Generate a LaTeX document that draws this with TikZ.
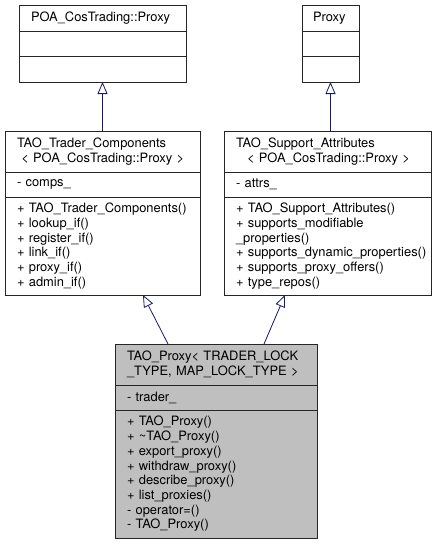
\documentclass[tikz,border=0pt]{standalone}
\usepackage{fontspec}
\setmainfont{TeX Gyre Heros}
\usepackage{tikz}
\usetikzlibrary{arrows.meta, positioning}
\definecolor{edgeblue}{HTML}{191970}
\definecolor{currentgray}{HTML}{BFBFBF}
\newcommand{\umlfont}{\fontsize{12.9}{14.7}\selectfont}
\tikzstyle{classpart} = [
    rectangle,
    draw = black!85,
    line width = 0.8pt,
    fill = white,
    inner xsep = 12pt,
    inner ysep = 0pt,
    outer sep = 0pt,
    align = left,
    font = \umlfont
]
\tikzstyle{currentpart} = [classpart, fill = currentgray]
\tikzstyle{arrow} = [
    draw = edgeblue,
    line width = 0.8pt,
    -{Triangle[open, length = 12pt, width = 10pt]}
]

\begin{document}
\begin{tikzpicture}
    \useasboundingbox (0pt, 0pt) rectangle (441pt, -544pt);

    \node (cos proxy)
        [classpart, text width = 143pt, minimum height = 26pt, anchor = north]
        at (102.5pt, -5pt) {POA\_CosTrading::Proxy};
    \node (cos proxy attrs)
        [classpart, text width = 143pt, minimum height = 25pt, below = 0pt of cos proxy] {};
    \node (cos proxy ops)
        [classpart, text width = 143pt, minimum height = 26pt, below = 0pt of cos proxy attrs] {};

    \node (proxy)
        [classpart, text width = 35pt, inner xsep = 11pt, minimum height = 26pt, anchor = north]
        at (330.5pt, -5pt) {Proxy};
    \node (proxy attrs)
        [classpart, text width = 35pt, inner xsep = 11pt, minimum height = 25pt, below = 0pt of proxy] {};
    \node (proxy ops)
        [classpart, text width = 35pt, inner xsep = 11pt, minimum height = 26pt, below = 0pt of proxy attrs] {};

    \node (trader components)
        [classpart, text width = 171pt, minimum height = 41pt, anchor = north]
        at (102.5pt, -131pt)
        {TAO\_Trader\_Components\\\,\,{<} POA\_CosTrading::Proxy {>}};
    \node (trader components attrs)
        [classpart, text width = 171pt, minimum height = 25pt, below = 0pt of trader components]
        {- comps\_};
    \node (trader components ops)
        [classpart, text width = 171pt, minimum height = 98pt, below = 0pt of trader components attrs]
        {
            + TAO\_Trader\_Components()\\
            + lookup\_if()\\
            + register\_if()\\
            + link\_if()\\
            + proxy\_if()\\
            + admin\_if()
        };

    \node (support attributes)
        [classpart, text width = 183pt, minimum height = 41pt, anchor = north]
        at (327.5pt, -131pt)
        {TAO\_Support\_Attributes\\\hspace*{11pt}{<} POA\_CosTrading::Proxy {>}};
    \node (support attributes attrs)
        [classpart, text width = 183pt, minimum height = 25pt, below = 0pt of support attributes]
        {- attrs\_};
    \node (support attributes ops)
        [classpart, text width = 183pt, minimum height = 98pt, below = 0pt of support attributes attrs]
        {
            + TAO\_Support\_Attributes()\\
            + supports\_modifiable\\
            \_properties()\\
            \mbox{+ supports\_dynamic\_properties()}\\
            + supports\_proxy\_offers()\\
            + type\_repos()
        };

    \node (tao proxy)
        [currentpart, text width = 178pt, minimum height = 41pt, anchor = north]
        at (216pt, -344pt)
        {TAO\_Proxy{<} TRADER\_LOCK\\\_TYPE, MAP\_LOCK\_TYPE {>}};
    \node (tao proxy attrs)
        [currentpart, text width = 178pt, minimum height = 25pt, below = 0pt of tao proxy]
        {- trader\_};
    \node (tao proxy ops)
        [currentpart, text width = 178pt, minimum height = 128pt, below = 0pt of tao proxy attrs]
        {
            + TAO\_Proxy()\\
            + \textasciitilde TAO\_Proxy()\\
            + export\_proxy()\\
            + withdraw\_proxy()\\
            + describe\_proxy()\\
            + list\_proxies()\\
            - operator=()\\
            - TAO\_Proxy()
        };

    \draw [arrow] (trader components.north) -- (cos proxy ops.south);
    \draw [arrow] (proxy ops.south |- support attributes.north) -- (proxy ops.south);
    \draw [arrow]
        ([xshift = -48pt]tao proxy.north) -- ([xshift = 40.5pt]trader components ops.south);
    \draw [arrow]
        ([xshift = 48pt]tao proxy.north) -- ([xshift = -42.5pt]support attributes ops.south);
\end{tikzpicture}
\end{document}
